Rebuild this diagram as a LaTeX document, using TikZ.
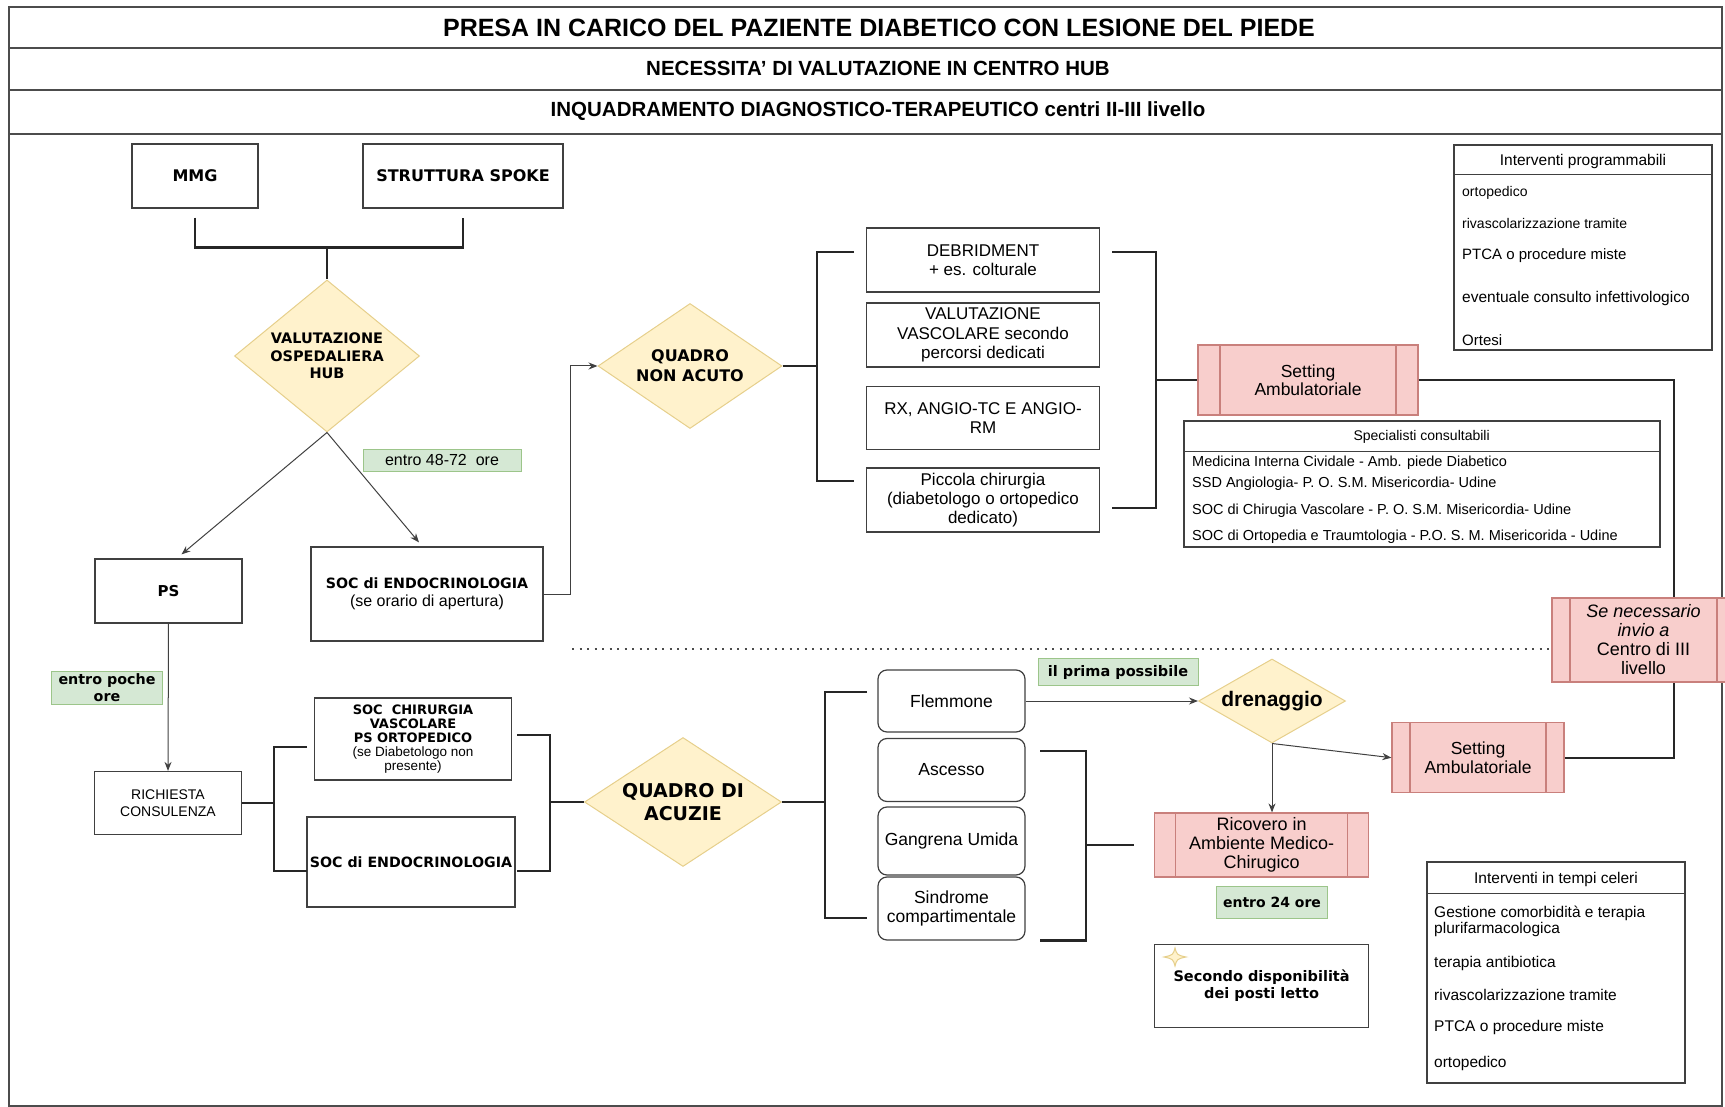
\documentclass[tikz,border=0pt]{standalone}
\usepackage{fontspec}
\setmainfont{Liberation Sans}
\newfontfamily\vfont{DejaVu Sans}
\usetikzlibrary{positioning,shapes.geometric,arrows.meta}

\definecolor{dyel}{HTML}{FFF2CC}
\definecolor{dyelline}{HTML}{E6CF8B}
\definecolor{dred}{HTML}{F8CECC}
\definecolor{dredline}{HTML}{C9807C}
\definecolor{dgreen}{HTML}{D5E8D4}
\definecolor{dgreenline}{HTML}{9CC58A}
\newcommand{\fsz}[2]{\fontsize{#1}{#2}\selectfont}

\tikzset{
  box/.style={draw=black!75, line width=1.2pt, fill=white, inner sep=0pt, align=center},
  rbox/.style={box, rounded corners=9pt},
  dia/.style={diamond, draw=dyelline, fill=dyel, line width=1pt, inner sep=0pt, align=center},
  proc/.style={box, draw=dredline, fill=dred,
    path picture={\draw[dredline, line width=1.2pt]
      ([xshift=#1]path picture bounding box.north west) -- ([xshift=#1]path picture bounding box.south west)
      ([xshift=-#1]path picture bounding box.north east) -- ([xshift=-#1]path picture bounding box.south east);}},
  tag/.style={draw=dgreenline, fill=dgreen, line width=1pt, inner sep=0pt, align=center},
  brk/.style={line width=2.2pt, black!85},
  arr/.style={line width=1pt, black!75, -{Stealth[length=9pt,width=7pt]}},
  row/.style={anchor=west, inner sep=0pt},
  vb/.style={font={\vfont\bfseries\fsz{#1}{1.2*#1}}}
}

\begin{document}
\begin{tikzpicture}[x=1pt,y=-1pt]
\useasboundingbox (0,0) rectangle (1725,1107);

% frame and title rows
\draw[line width=1.2pt, black!70] (9,7) rectangle (1722,1106);
\draw[line width=1.2pt, black!70] (9,48) -- (1722,48);
\draw[line width=1.2pt, black!70] (9,90) -- (1722,90);
\draw[line width=1.2pt, black!70] (9,134) -- (1722,134);
\node[font={\bfseries\fsz{25}{28}}] (t1) at (879,27.5) {PRESA IN CARICO DEL PAZIENTE DIABETICO CON LESIONE DEL PIEDE};
\node[font={\bfseries\fsz{20.5}{23}}] (t2) at (878,68) {NECESSITA' DI VALUTAZIONE IN CENTRO HUB};
\node[font={\bfseries\fsz{20.5}{23}}] (t3) at (878,111) {INQUADRAMENTO DIAGNOSTICO-TERAPEUTICO centri II-III livello};

% upper part
\node[box, font={\vfont\bfseries\fsz{16}{19}}, minimum width=126pt, minimum height=64pt] (mmg) at (195,176) {MMG};
\node[box, font={\vfont\bfseries\fsz{16}{19}}, minimum width=200pt, minimum height=64pt] (spoke) at (463,176) {STRUTTURA SPOKE};
\node[dia, font={\vfont\bfseries\fsz{14.5}{17.7}}, minimum width=185pt, minimum height=152pt, aspect=1.22] (vhub) at (327,356)
  {VALUTAZIONE\\OSPEDALIERA\\HUB};
\coordinate (j1) at (327,247.5);
\draw[brk] ([yshift=-9pt]mmg.south) |- (j1) -| ([yshift=-9pt]spoke.south);
\draw[brk] (j1) -- (vhub.north);

\node[box, font={\vfont\bfseries\fsz{15}{18}}, minimum width=147pt, minimum height=64pt] (ps) at (168.5,591) {PS};
\node[box, font={\fsz{16}{18.5}}, minimum width=232pt, minimum height=94pt] (socendo) at (427,594)
  {\vfont\bfseries\fsz{14.2}{18.5}SOC di ENDOCRINOLOGIA\\(se orario di apertura)};
\node[tag, font={\fsz{16}{18}}, minimum width=158pt, minimum height=22pt] (h48) at (442,460) {entro 48-72~ ore};
\draw[arr] (vhub.south) -- ([xshift=13pt,yshift=4pt]ps.north);
\draw[arr] (vhub.south) -- ([xshift=-8pt,yshift=4pt]socendo.north);

\node[dia, font={\vfont\bfseries\fsz{16}{19.7}}, minimum width=184pt, minimum height=125pt, aspect=1.47] (qna) at (690,366)
  {QUADRO\\NON ACUTO};
\draw[arr] (socendo.east) -- ++(27,0) |- (qna.west);

\node[box, font={\fsz{17}{19.3}}, minimum width=233pt, minimum height=64pt] (debr) at (983,260) {DEBRIDMENT\\+ es. colturale};
\node[box, font={\fsz{17}{19.3}}, minimum width=233pt, minimum height=64pt] (vasc) at (983,335) {VALUTAZIONE\\VASCOLARE secondo\\percorsi dedicati};
\node[box, font={\fsz{17}{19.3}}, minimum width=233pt, minimum height=63pt] (rx) at (983,418) {RX, ANGIO-TC E ANGIO-\\RM};
\node[box, font={\fsz{17}{19.3}}, minimum width=233pt, minimum height=64pt] (picc) at (983,500) {Piccola chirurgia\\(diabetologo o ortopedico\\dedicato)};
\coordinate (k1) at (854,252);
\coordinate (k2) at (854,481);
\coordinate (k3) at (817,366);
\draw[brk] (k1) -| (k3) |- (k2);
\draw[brk] (qna.east) -- (k3);

\node[proc=22pt, font={\fsz{17.5}{18.5}}, minimum width=220pt, minimum height=70pt] (set1) at (1308,380) {Setting\\Ambulatoriale};
\coordinate (k4) at (1112,252);
\coordinate (k5) at (1112,508);
\coordinate (k6) at (1156,380);
\draw[brk] (k4) -| (k6) |- (k5);
\draw[brk] (k6) -- (set1.west);

% specialisti
\node[box, minimum width=476pt, minimum height=126pt] (spec) at (1422,484) {};
\draw[line width=1.2pt, black!75] ([yshift=-31pt]spec.north west) -- ([yshift=-31pt]spec.north east);
\node[font={\fsz{14}{16}}] (spech) at (1421.6,437) {Specialisti consultabili};
\node[row, font={\fsz{14.5}{16}}] (sp1) at (1192,463) {Medicina Interna Cividale - Amb. piede Diabetico};
\node[row, font={\fsz{14.5}{16}}] (sp2) at (1192,484) {SSD Angiologia- P. O. S.M. Misericordia- Udine};
\node[row, font={\fsz{14.5}{16}}] (sp3) at (1192,511) {SOC di Chirugia Vascolare - P. O. S.M. Misericordia- Udine};
\node[row, font={\fsz{14.5}{16}}] (sp4) at (1192,537) {SOC di Ortopedia e Traumtologia - P.O. S. M. Misericorida - Udine};

% interventi programmabili
\node[box, minimum width=258pt, minimum height=205pt] (iprog) at (1583,247.5) {};
\draw[line width=1.2pt, black!75] ([yshift=-30pt]iprog.north west) -- ([yshift=-30pt]iprog.north east);
\node[font={\fsz{15.5}{17}}] (iproh) at (1583,161.5) {Interventi programmabili};
\node[row, font={\fsz{14}{16}}] (ip1) at (1462,192.7) {ortopedico};
\node[row, font={\fsz{14}{16}}] (ip2) at (1462,223) {rivascolarizzazione tramite};
\node[row, font={\fsz{15}{16}}] (ip3) at (1462,256) {PTCA o procedure miste};
\node[row, font={\fsz{15.5}{16}}] (ip4) at (1462,298) {eventuale consulto infettivologico};
\node[row, font={\fsz{15}{16}}] (ip5) at (1462,340) {Ortesi};

% se necessario
\node[proc=18pt, font={\fsz{18}{19}}, minimum width=183pt, minimum height=84pt] (senec) at (1643.5,640)
  {\itshape Se necessario\\\itshape invio a\\Centro di III\\livello};
\draw[brk] (set1.east) -| ([xshift=30.5pt]senec.north);

\coordinate (d1) at (572,649);
\draw[line width=2pt, black!70, dash pattern=on 2pt off 5.5pt] (d1) -- (d1 -| senec.west);

% lower part
\node[tag, font={\vfont\bfseries\fsz{14.3}{17}}, minimum width=111pt, minimum height=33pt] (hpoche) at (107,688) {entro poche\\ore};
\node[box, font={\fsz{14}{16.7}}, minimum width=147pt, minimum height=63pt] (ric) at (168,803) {RICHIESTA\\CONSULENZA};
\draw[arr] (ps.south) -- (ric.north);

\node[box, font={\fsz{13.5}{13.8}}, minimum width=197pt, minimum height=82pt] (socchir) at (413,739)
  {\vfont\bfseries\fsz{13}{13.8}SOC~ CHIRURGIA\\\vfont\bfseries\fsz{13}{13.8}VASCOLARE\\\vfont\bfseries\fsz{13}{13.8}PS ORTOPEDICO\\(se Diabetologo non\\presente)};
\node[box, font={\vfont\bfseries\fsz{14.2}{17}}, minimum width=208pt, minimum height=90pt] (endo2) at (411,862) {SOC di ENDOCRINOLOGIA};
\coordinate (k7) at (274,803);
\coordinate (k8) at (307,747);
\coordinate (k9) at (307,871);
\draw[brk] (ric.east) -- (k7);
\draw[brk] (k8) -| (k7) |- (k9);

\node[dia, font={\vfont\bfseries\fsz{19}{22.7}}, minimum width=197pt, minimum height=129pt, aspect=1.53] (qda) at (683,802)
  {QUADRO DI\\ACUZIE};
\coordinate (k10) at (517,735);
\coordinate (k11) at (517,871);
\coordinate (k12) at (550,802);
\draw[brk] (k10) -| (k12) |- (k11);
\draw[brk] (k12) -- (qda.west);

\node[rbox, font={\fsz{17.5}{19}}, minimum width=147pt, minimum height=62pt] (flem) at (951.5,701) {Flemmone};
\node[rbox, font={\fsz{17.5}{19}}, minimum width=147pt, minimum height=63pt] (asc) at (951.5,770) {Ascesso};
\node[rbox, font={\fsz{17.5}{19}}, minimum width=147pt, minimum height=68pt] (gang) at (951.5,841) {Gangrena Umida};
\node[rbox, font={\fsz{17.5}{19}}, minimum width=147pt, minimum height=63pt] (sind) at (951.5,908.5) {Sindrome\\compartimentale};
\coordinate (k13) at (825,802);
\coordinate (k14) at (867,692);
\coordinate (k15) at (867,918);
\draw[brk] (k14) -| (k13) |- (k15);
\draw[brk] (qda.east) -- (k13);

\node[dia, font={\bfseries\fsz{21}{23}}, minimum width=147pt, minimum height=84pt, aspect=1.75] (dren) at (1272,701) {drenaggio};
\node[tag, font={\vfont\bfseries\fsz{14.5}{17}}, minimum width=160pt, minimum height=27pt] (hprima) at (1118,672) {il prima possibile};
\draw[arr] (flem.east) -- (dren.west);

\node[proc=18pt, font={\fsz{17.5}{18.5}}, minimum width=172pt, minimum height=70pt] (set2) at (1478,757.7) {Setting\\Ambulatoriale};
\node[proc=21pt, font={\fsz{18}{19}}, minimum width=214pt, minimum height=64pt] (ricov) at (1261.6,845) {Ricovero in\\Ambiente Medico-\\Chirugico};
\draw[arr] (dren.south) -- (dren.south |- ricov.north);
\draw[arr] (dren.south) -- (set2.west);
\draw[brk] (set2.east) -| ([xshift=30.5pt]senec.south);

\coordinate (k16) at (1040,751);
\coordinate (k17) at (1040,940.5);
\coordinate (k18) at (1086,845);
\draw[brk] (k16) -| (k18) |- (k17);
\draw[brk] (k18) -- ([xshift=-20pt]ricov.west);

\node[tag, font={\vfont\bfseries\fsz{14}{17}}, minimum width=111pt, minimum height=32pt] (h24) at (1272,902) {entro 24 ore};
\node[box, font={\vfont\bfseries\fsz{14.5}{17.3}}, minimum width=214pt, minimum height=83pt] (posti) at (1261.6,986)
  {Secondo disponibilità\\dei posti letto};
\fill[dyel, draw=dyelline, line width=1pt] (1175,948) .. controls (1177,955) .. (1186,957) .. controls (1177,959) .. (1175,966) .. controls (1173,959) .. (1164,957) .. controls (1173,955) .. cycle;

% interventi in tempi celeri
\node[box, minimum width=258pt, minimum height=221pt] (icel) at (1556,972.5) {};
\draw[line width=1.2pt, black!75] ([yshift=-32pt]icel.north west) -- ([yshift=-32pt]icel.north east);
\node[font={\fsz{15.5}{17}}] (iceh) at (1556,879) {Interventi in tempi celeri};
\node[row, font={\fsz{15.5}{16}}] (tc1) at (1434,913) {Gestione comorbidità e terapia};
\node[row, font={\fsz{15.5}{16}}] (tc2) at (1434,929) {plurifarmacologica};
\node[row, font={\fsz{15.5}{16}}] (tc3) at (1434,963) {terapia antibiotica};
\node[row, font={\fsz{15.5}{16}}] (tc4) at (1434,995) {rivascolarizzazione tramite};
\node[row, font={\fsz{15.5}{16}}] (tc5) at (1434,1027) {PTCA o procedure miste};
\node[row, font={\fsz{15.5}{16}}] (tc6) at (1434,1063) {ortopedico};

\end{tikzpicture}
\end{document}
